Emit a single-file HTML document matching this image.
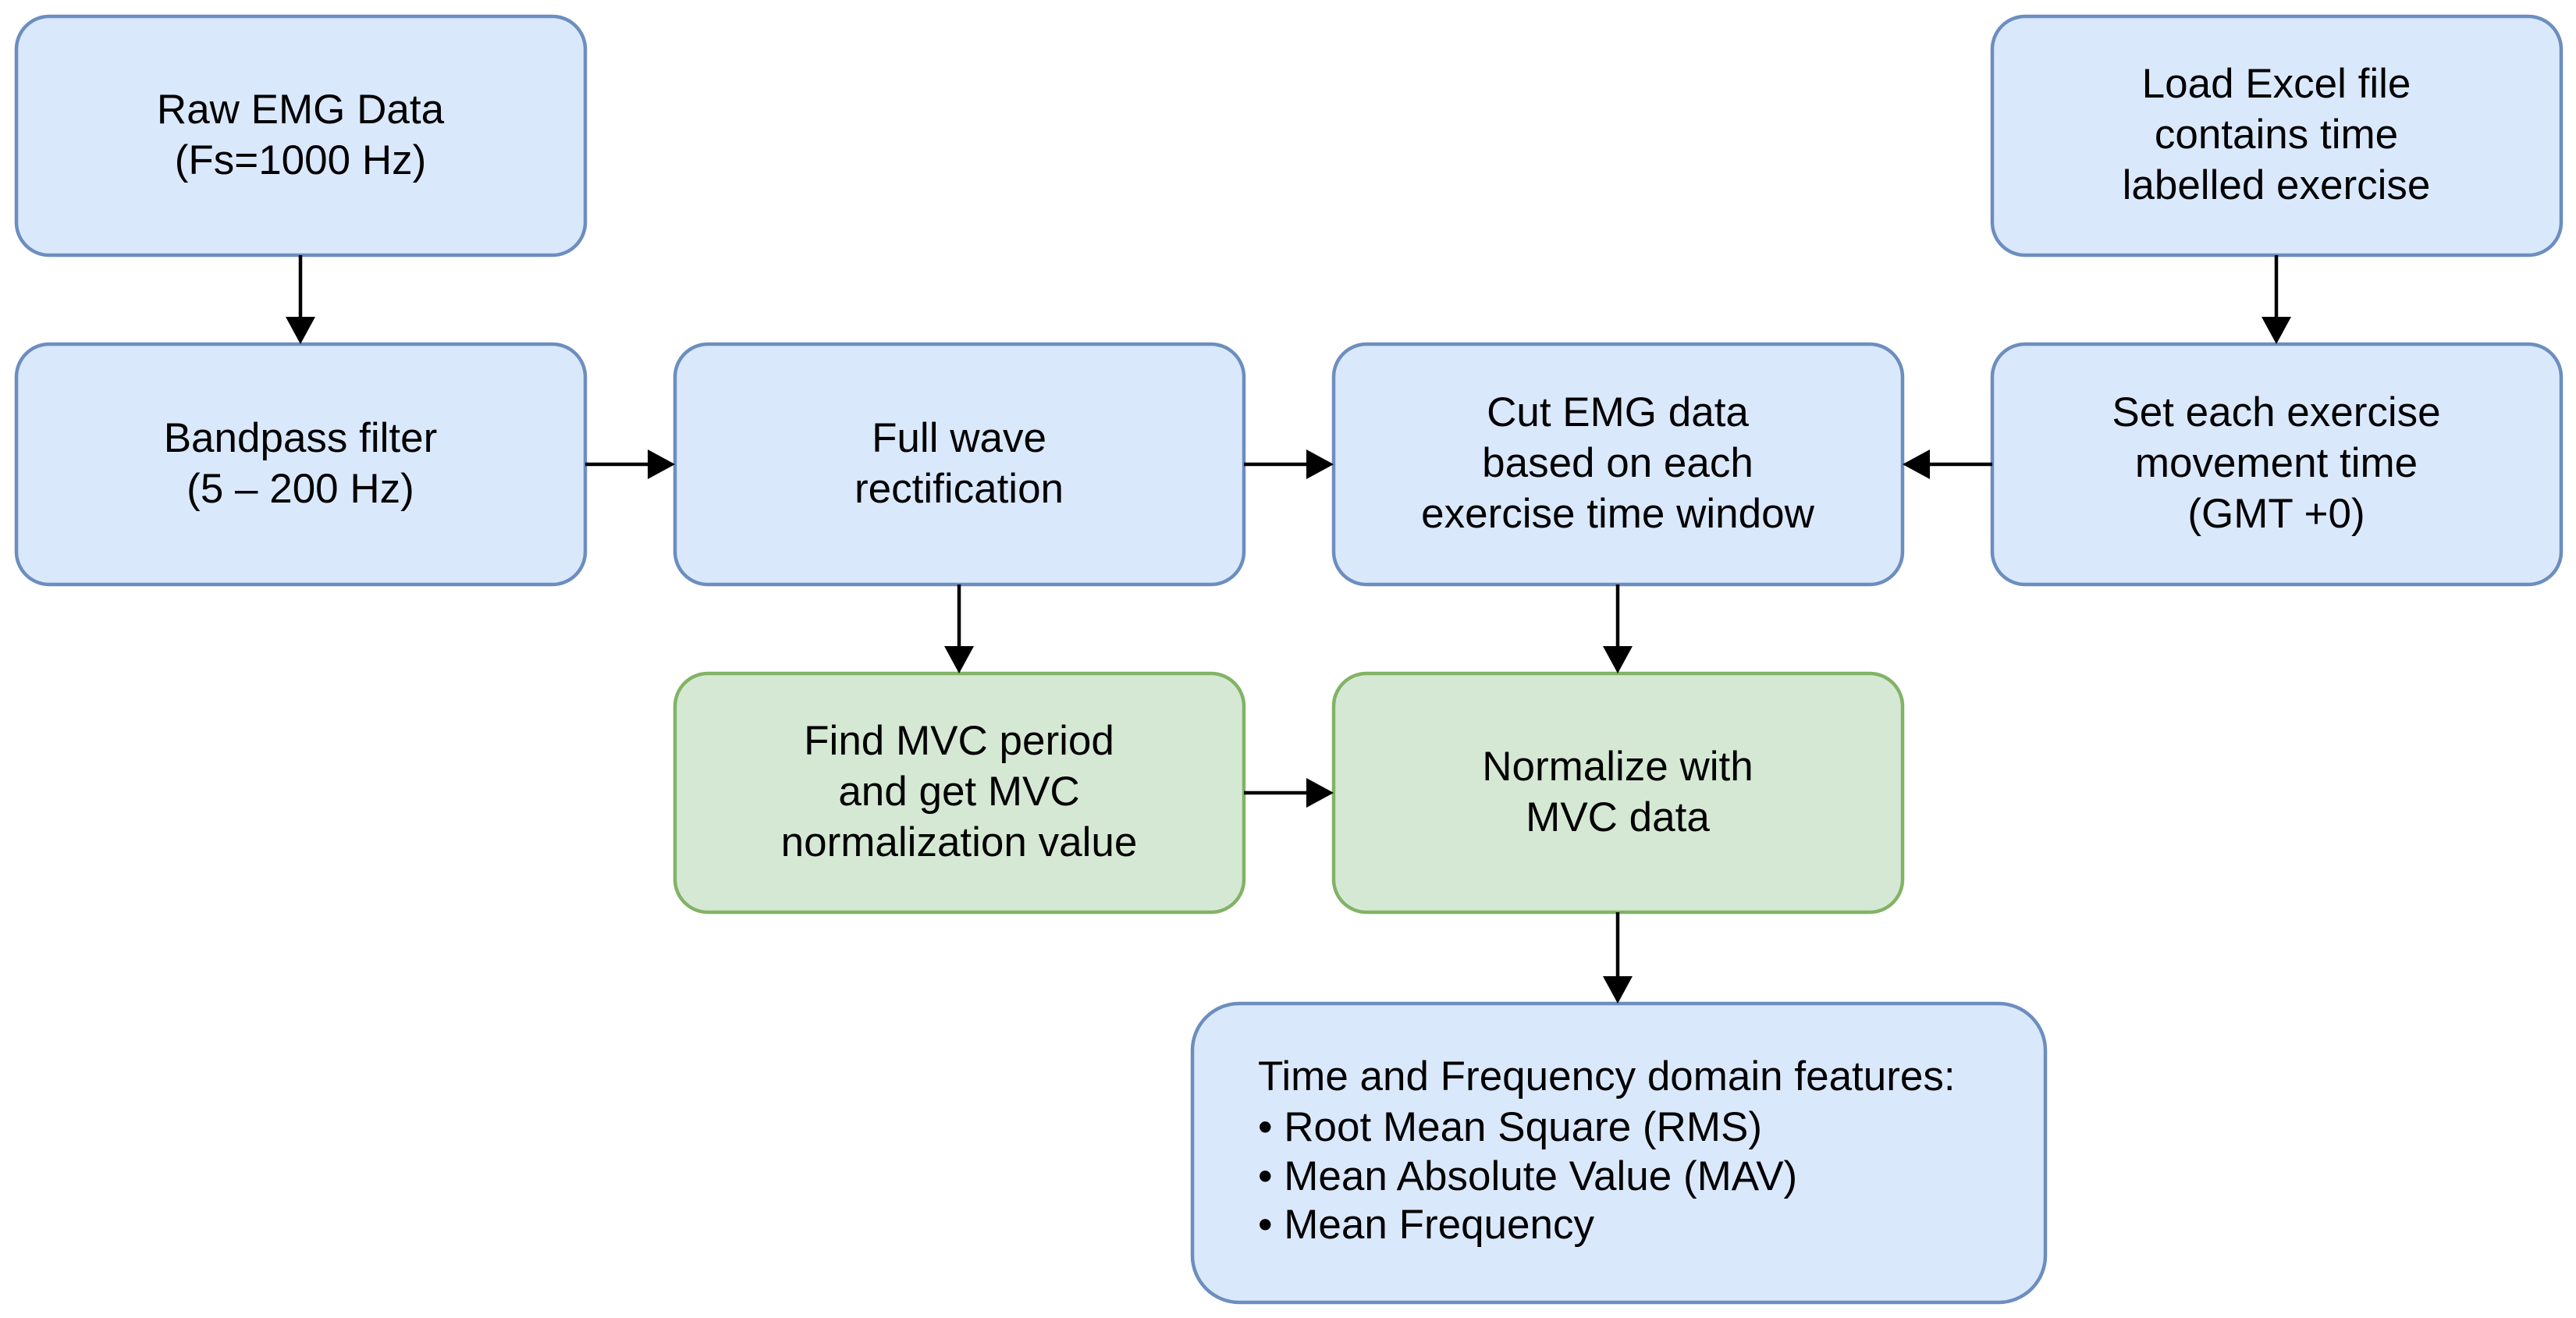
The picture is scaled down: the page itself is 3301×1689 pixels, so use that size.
<!DOCTYPE html>
<html><head><meta charset="utf-8"><style>html,body{margin:0;padding:0;background:#fff}svg{display:block}</style></head>
<body>
<svg width="3301" height="1689" viewBox="0 0 3301 1689" xmlns="http://www.w3.org/2000/svg" font-family="Liberation Sans, Arial, sans-serif" font-size="53">
<g stroke-width="4.5">
<rect x="21" y="21" width="729" height="306" rx="42" fill="#dae8fc" stroke="#6c8ebf"/>
<rect x="2553" y="21" width="729" height="306" rx="42" fill="#dae8fc" stroke="#6c8ebf"/>
<rect x="21" y="441" width="729" height="308" rx="42" fill="#dae8fc" stroke="#6c8ebf"/>
<rect x="865" y="441" width="729" height="308" rx="42" fill="#dae8fc" stroke="#6c8ebf"/>
<rect x="1709" y="441" width="729" height="308" rx="42" fill="#dae8fc" stroke="#6c8ebf"/>
<rect x="2553" y="441" width="729" height="308" rx="42" fill="#dae8fc" stroke="#6c8ebf"/>
<rect x="865" y="863" width="729" height="306" rx="42" fill="#d5e8d4" stroke="#82b366"/>
<rect x="1709" y="863" width="729" height="306" rx="42" fill="#d5e8d4" stroke="#82b366"/>
<rect x="1528" y="1286" width="1093" height="383" rx="60" fill="#dae8fc" stroke="#6c8ebf"/>
</g>
<g stroke="#000" stroke-width="4.5" fill="none">
<line x1="385" y1="327" x2="385" y2="408"/>
<line x1="2917" y1="327" x2="2917" y2="408"/>
<line x1="750" y1="595" x2="832" y2="595"/>
<line x1="1594" y1="595" x2="1676" y2="595"/>
<line x1="2553" y1="595" x2="2471" y2="595"/>
<line x1="1229" y1="749" x2="1229" y2="830"/>
<line x1="2073" y1="749" x2="2073" y2="830"/>
<line x1="1594" y1="1016" x2="1676" y2="1016"/>
<line x1="2073" y1="1169" x2="2073" y2="1253"/>
</g>
<g fill="#000">
<polygon points="366,406 404,406 385,441"/>
<polygon points="2898,406 2936,406 2917,441"/>
<polygon points="830,576 830,614 865,595"/>
<polygon points="1674,576 1674,614 1709,595"/>
<polygon points="2473,576 2473,614 2438,595"/>
<polygon points="1210,828 1248,828 1229,863"/>
<polygon points="2054,828 2092,828 2073,863"/>
<polygon points="1674,997 1674,1035 1709,1016"/>
<polygon points="2054,1251 2092,1251 2073,1286"/>
</g>
<g text-anchor="middle" fill="#000">
<text x="385" y="158">Raw EMG Data</text>
<text x="385" y="223">(Fs=1000 Hz)</text>
<text x="2917" y="125">Load Excel file</text>
<text x="2917" y="190">contains time</text>
<text x="2917" y="255">labelled exercise</text>
<text x="385" y="579">Bandpass filter</text>
<text x="385" y="644">(5 – 200 Hz)</text>
<text x="1229" y="579">Full wave</text>
<text x="1229" y="644">rectification</text>
<text x="2073" y="546">Cut EMG data</text>
<text x="2073" y="611">based on each</text>
<text x="2073" y="676">exercise time window</text>
<text x="2917" y="546">Set each exercise</text>
<text x="2917" y="611">movement time</text>
<text x="2917" y="676">(GMT +0)</text>
<text x="1229" y="967">Find MVC period</text>
<text x="1229" y="1032">and get MVC</text>
<text x="1229" y="1097">normalization value</text>
<text x="2073" y="1000">Normalize with</text>
<text x="2073" y="1065">MVC data</text>
</g>
<g fill="#000">
<text x="1612" y="1397">Time and Frequency domain features:</text>
<text x="1612" y="1462">• Root Mean Square (RMS)</text>
<text x="1612" y="1525">• Mean Absolute Value (MAV)</text>
<text x="1612" y="1587">• Mean Frequency</text>
</g>
</svg>
</body></html>
